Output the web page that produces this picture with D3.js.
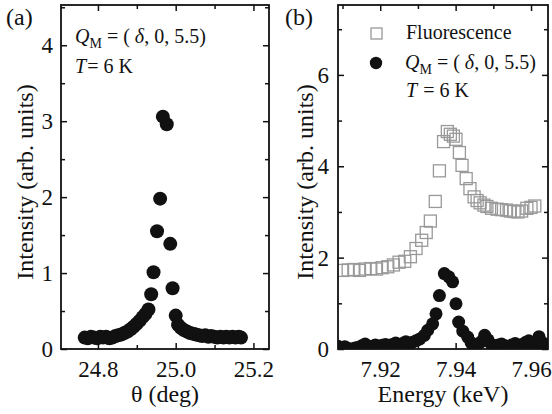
<!DOCTYPE html>
<html>
<head>
<meta charset="utf-8">
<script src="https://d3js.org/d3.v7.min.js"></script>
<style>
body{margin:0;background:#fff;}
svg{font-family:"Liberation Serif","Times New Roman",serif;}
</style>
</head>
<body>
<script>
var width = 552;
var height = 414;

// (a) theta scan at Q_M
var thetaA = [24.766,24.774,24.782,24.790,24.798,24.806,24.813,24.821,24.829,24.837,24.845,24.852,24.860,24.868,24.876,24.884,24.891,24.899,24.907,24.915,24.922,
	24.930,24.937,24.943,24.952,24.960,24.967,24.977,24.986,24.992,25.000,
	25.006,25.013,25.021,25.029,25.037,25.045,25.052,25.060,25.068,25.076,25.084,25.091,25.099,25.107,25.115,25.123,25.130,25.138,25.146,25.154,25.162,25.168];
var intA = [0.15,0.14,0.16,0.15,0.14,0.16,0.15,0.16,0.14,0.15,0.17,0.18,0.19,0.21,0.23,0.26,0.29,0.33,0.37,0.42,0.46,
	0.52,0.72,1.01,1.55,1.98,3.06,2.96,1.385,0.80,0.44,
	0.32,0.28,0.25,0.23,0.21,0.20,0.19,0.18,0.17,0.18,0.16,0.17,0.16,0.15,0.16,0.15,0.16,0.15,0.16,0.15,0.16,0.15];

// (b) energy scans
var energyF = [7.9100,7.9115,7.9130,7.9145,7.9160,7.9175,7.9190,7.9205,7.9220,7.9235,7.9250,7.9265,7.9280,7.9295,7.9310,7.9322,
	7.9333,7.9346,7.9357,7.9368,7.9378,7.9386,7.9394,7.9401,7.9410,7.9417,7.9428,7.9438,7.9449,7.9457,7.9465,7.9475,7.9483,
	7.9495,7.9510,7.9522,7.9535,7.9545,7.9555,7.9565,7.9575,7.9589,7.9600,7.9610];
var intF = [1.72,1.73,1.74,1.72,1.75,1.76,1.75,1.78,1.80,1.84,1.90,1.92,2.02,2.20,2.38,2.55,
	2.80,3.23,3.90,4.54,4.76,4.70,4.66,4.59,4.30,4.02,3.73,3.51,3.33,3.25,3.20,3.15,3.12,
	3.08,3.06,3.05,3.04,3.02,3.01,3.00,3.02,3.08,3.10,3.13];
var energyM = [7.9088,7.9097,7.9106,7.9115,7.9124,7.9133,7.9142,7.9151,7.9160,7.9169,7.9178,7.9187,7.9196,7.9205,7.9214,7.9223,7.9232,7.9241,7.9250,7.9259,7.9268,7.9277,7.9286,7.9295,7.9305,7.9317,
	7.9326,7.9339,7.9348,7.9357,7.9370,7.9382,7.9392,7.9401,7.9408,7.9419,7.9432,
	7.9441,7.9450,7.9459,7.9468,7.9477,7.9486,7.9495,7.9504,7.9513,7.9522,7.9531,7.9540,7.9549,7.9558,7.9567,7.9576,7.9585,7.9594,7.9603,7.9612,7.9621,7.9630,7.9639,7.9648];
var intM = [0.06,0.03,0.05,0.01,0.00,0.02,0.04,0.07,0.11,0.06,0.05,0.09,0.06,0.08,0.10,0.07,0.10,0.13,0.09,0.12,0.16,0.12,0.15,0.18,0.22,0.30,
	0.41,0.55,0.77,1.17,1.65,1.58,1.47,0.99,0.59,0.39,0.26,
	0.14,0.07,0.10,0.16,0.30,0.20,0.10,0.06,0.09,0.11,0.07,0.05,0.09,0.12,0.07,0.10,0.14,0.18,0.12,0.08,0.27,0.14,0.09,0.08];

var ticksAx = [24.8,25.0,25.2], minorAx = [24.9,25.1];
var ticksAy = [0,1,2,3,4], minorAy = [0.5,1.5,2.5,3.5,4.5];
var ticksBx = [7.92,7.94,7.96], minorBx = [7.91,7.93,7.95];
var ticksBy = [0,2,4,6], minorBy = [1,3,5,7];

var svg = d3.select('body').append('svg').attr('width',width).attr('height',height);

function frame(x,y,o){
	var g = svg.append('g');
	var x0 = x.range()[0], x1 = x.range()[1], y0 = y.range()[0], y1 = y.range()[1];
	function ax(gen,tr,vals,size,labels,fmt,pad){
		var a = g.append('g').attr('transform',tr)
			.call(gen.tickValues(vals).tickSizeInner(-size).tickSizeOuter(0).tickPadding(pad)
				.tickFormat(labels?fmt:''));
		a.select('.domain').remove();
		a.selectAll('line').attr('stroke','#111').attr('stroke-width',1.5);
		a.selectAll('text').attr('font-size',23).attr('fill','#111').attr('font-family','Liberation Serif');
	}
	[[o.xt,6,true],[o.xm,4,false]].forEach(function(t){
		ax(d3.axisBottom(x),'translate(0,'+y0+')',t[0],t[1],t[2],o.xf,12);
		ax(d3.axisTop(x),'translate(0,'+y1+')',t[0],t[1],false,o.xf,12);
	});
	[[o.yt,6,true],[o.ym,4,false]].forEach(function(t){
		ax(d3.axisLeft(y),'translate('+x0+',0)',t[0],t[1],t[2],d3.format('d'),o.ypad);
		ax(d3.axisRight(y),'translate('+x1+',0)',t[0],t[1],false,d3.format('d'),o.ypad);
	});
	g.append('rect').attr('x',x0).attr('y',y1).attr('width',x1-x0).attr('height',y0-y1)
		.attr('fill','none').attr('stroke','#111').attr('stroke-width',1.8);
	g.append('text').attr('x',(x0+x1)/2).attr('y',402).attr('text-anchor','middle')
		.attr('font-size',24).attr('fill','#111').text(o.xlabel);
	g.append('text').attr('transform','translate('+o.ylx+',182) rotate(-90)').attr('text-anchor','middle')
		.attr('font-size',24).attr('fill','#111').text('Intensity (arb. units)');
	g.append('text').attr('x',o.tagx).attr('y',25).attr('font-size',24).attr('fill','#111').text(o.tag);
}

function qText(x,y){
	var t = svg.append('text').attr('x',x).attr('y',y).attr('font-size',20).attr('fill','#111');
	t.append('tspan').attr('font-style','italic').text('Q');
	t.append('tspan').attr('font-size',14).attr('dy',5).text('M');
	t.append('tspan').attr('dy',-5).text(' = ( ');
	t.append('tspan').attr('font-style','italic').text('δ');
	t.append('tspan').text(', 0, 5.5)');
}
function tText(x,y,gap){
	var t = svg.append('text').attr('x',x).attr('y',y).attr('font-size',20).attr('fill','#111');
	t.append('tspan').attr('font-style','italic').text('T');
	t.append('tspan').attr('dx',gap).text('= 6 K');
}

// ---- panel (a)
var xA = d3.scaleLinear().domain([24.705,25.24]).range([61,269]);
var yA = d3.scaleLinear().domain([0,4.53]).range([349,5]);
svg.append('clipPath').attr('id','clipA').append('rect').attr('x',61).attr('y',5).attr('width',208).attr('height',344);
svg.append('g').attr('clip-path','url(#clipA)')
	.selectAll('circle').data(thetaA).enter().append('circle')
	.attr('cx',(d)=>xA(d)).attr('cy',(d,i)=>yA(intA[i])).attr('r',7).attr('fill','#111');
frame(xA,yA,{xt:ticksAx,xm:minorAx,yt:ticksAy,ym:minorAy,xf:d3.format('.1f'),ypad:8,
	xlabel:'θ (deg)',ylx:33,tag:'(a)',tagx:6});
qText(75,43);
tText(75,73,1);

// ---- panel (b)
var xB = d3.scaleLinear().domain([7.9088,7.9645]).range([338,548]);
var yB = d3.scaleLinear().domain([0,7.53]).range([349,5]);
svg.append('clipPath').attr('id','clipB').append('rect').attr('x',338).attr('y',5).attr('width',210).attr('height',344);
var pb = svg.append('g').attr('clip-path','url(#clipB)');
pb.selectAll('rect').data(energyF).enter().append('rect')
	.attr('x',(d)=>xB(d)-6).attr('y',(d,i)=>yB(intF[i])-6).attr('width',12).attr('height',12)
	.attr('fill','none').attr('stroke','#999').attr('stroke-width',1.3);
pb.selectAll('circle').data(energyM).enter().append('circle')
	.attr('cx',(d)=>xB(d)).attr('cy',(d,i)=>yB(intM[i])).attr('r',6.5).attr('fill','#111');
frame(xB,yB,{xt:ticksBx,xm:minorBx,yt:ticksBy,ym:minorBy,xf:d3.format('.2f'),ypad:9,
	xlabel:'Energy (keV)',ylx:313,tag:'(b)',tagx:285});

// legend
svg.append('rect').attr('x',371).attr('y',28).attr('width',11).attr('height',11)
	.attr('fill','none').attr('stroke','#999').attr('stroke-width',1.3);
svg.append('text').attr('x',406).attr('y',39).attr('font-size',20).attr('fill','#111').text('Fluorescence');
svg.append('circle').attr('cx',376).attr('cy',63).attr('r',6.2).attr('fill','#111');
qText(405,69);
tText(406,97,6);
</script>
</body>
</html>
